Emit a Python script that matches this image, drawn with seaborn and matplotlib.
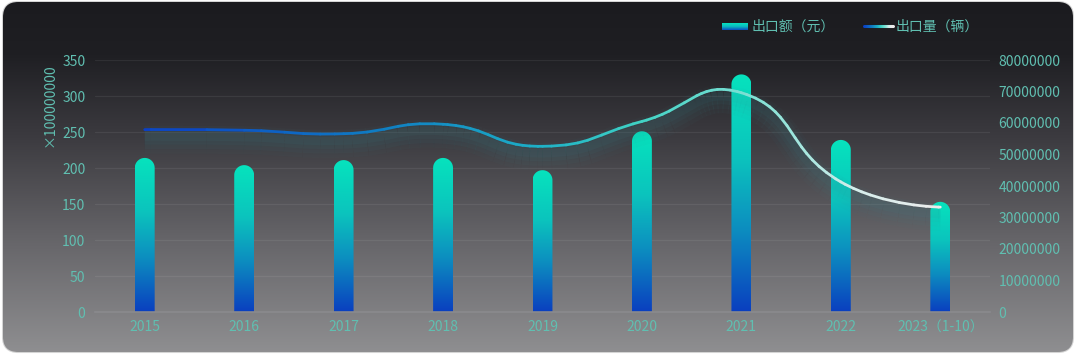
import numpy as np
import pandas as pd
import matplotlib
matplotlib.use("Agg")
import matplotlib.pyplot as plt
import seaborn as sns
from matplotlib.path import Path
from matplotlib.patches import FancyBboxPatch
from matplotlib.collections import LineCollection
from matplotlib.colors import LinearSegmentedColormap
from matplotlib.transforms import IdentityTransform

# ---------------- data ----------------
years = ["2015", "2016", "2017", "2018", "2019", "2020", "2021", "2022", "2023（1-10）"]
export_value = [214, 204, 211, 214, 197, 251, 330, 239, 153]          # ×100000000 元
export_volume = [57.9e6, 57.7e6, 56.6e6, 59.6e6, 52.6e6, 60.5e6, 69.6e6, 41.3e6, 33.3e6]  # 辆
left_ticks = [0, 50, 100, 150, 200, 250, 300, 350]
right_ticks = [0, 10000000, 20000000, 30000000, 40000000, 50000000, 60000000, 70000000, 80000000]
legend_labels = ["出口额（元）", "出口量（辆）"]
unit_label = "×100000000"

# ---------------- style ----------------
sns.set_style("dark")
plt.rcParams["font.family"] = ["Noto Sans CJK SC", "DejaVu Sans"]
TEAL = "#60bfb1"
FS = 10
W, H, DPI = 1080, 362, 100

fig = plt.figure(figsize=(W / DPI, H / DPI), dpi=DPI, facecolor="white")

# background card with vertical gradient
bg = fig.add_axes([0, 0, 1, 1], zorder=-10)
bg.set_xlim(0, 1); bg.set_ylim(0, 1); bg.axis("off")
bg_cmap = LinearSegmentedColormap.from_list(
    "bg", [(0.0, "#929294"), (0.35, "#646367"), (0.62, "#3c3b40"), (0.85, "#1f1f23"), (1.0, "#1b1b1f")])
grad = np.linspace(0, 1, 256).reshape(-1, 1)
card = FancyBboxPatch((3 / W, 10 / H), 1070 / W, 350 / H,
                      boxstyle="round,pad=0,rounding_size=0.014",
                      mutation_aspect=W / H, transform=bg.transAxes,
                      facecolor="none", edgecolor="#d4d4d4", lw=1.5, zorder=0)
bg.add_patch(card)
im_bg = bg.imshow(grad, cmap=bg_cmap, extent=[0, 1, 0, 1], aspect="auto", origin="lower", zorder=1)
im_bg.set_clip_path(card)

# main axes
ax = fig.add_axes([95 / W, 50 / H, 895 / W, 252 / H])
ax.set_facecolor("none")
df = pd.DataFrame({"year": years, "value": export_value})
sns.barplot(data=df, x="year", y="value", ax=ax, width=0.2, color="#08dfbd", saturation=1)
ax.set_xlim(-0.5, len(years) - 0.5)
ax.set_ylim(0, 350)
ax.set_yticks(left_ticks)
ax.set_xlabel(""); ax.set_ylabel("")
ax.set_autoscale_on(False)
for s in ["top", "left", "right"]:
    ax.spines[s].set_visible(False)
ax.spines["bottom"].set_color("#8a8a8e")
ax.spines["bottom"].set_linewidth(1.2)
ax.grid(axis="x", visible=False)
ax.grid(axis="y", color="white", alpha=0.07, lw=0.9)
ax.tick_params(axis="both", length=0, colors=TEAL, labelsize=FS)
ax.tick_params(axis="y", pad=7)
ax.tick_params(axis="x", pad=6)

bar_cmap = LinearSegmentedColormap.from_list(
    "bar", [(0.0, "#0a3fbf"), (0.35, "#0d8ec0"), (0.65, "#0bc4bd"), (1.0, "#06e3bd")])
fig.canvas.draw()
for p in list(ax.patches):
    x0, w, h = p.get_x(), p.get_width(), p.get_height()
    p.set_visible(False)
    (px0, py0) = ax.transData.transform((x0, 0))
    (px1, py1) = ax.transData.transform((x0 + w, h))
    r = min((px1 - px0) / 2, py1 - py0)
    cx = (px0 + px1) / 2
    th = np.linspace(np.pi, 0, 30)
    arc = np.column_stack([cx + (px1 - px0) / 2 * np.cos(th), py1 - r + r * np.sin(th)])
    verts = np.vstack([[px0, py0], arc, [px1, py0], [px0, py0]])
    codes = [Path.MOVETO] + [Path.LINETO] * (len(verts) - 2) + [Path.CLOSEPOLY]
    clip = Path(verts, codes)
    im = ax.imshow(grad, cmap=bar_cmap, extent=[x0, x0 + w, 0, h], aspect="auto",
                   origin="lower", zorder=2)
    im.set_clip_path(clip, IdentityTransform())

# secondary axis and smooth line
ax2 = ax.twinx()
ax2.set_ylim(0, 80000000)
ax2.set_yticks(right_ticks)
ax2.set_yticklabels([str(v) for v in right_ticks])
for s in ax2.spines.values():
    s.set_visible(False)
ax2.tick_params(axis="y", length=0, colors=TEAL, labelsize=FS, pad=6)
ax2.grid(False)
fig.canvas.draw()

pts = ax2.transData.transform(np.column_stack([np.arange(len(years)), export_volume]))
smooth = 0.5
n = len(pts)
cp_next, cp_prev = [None] * n, [None] * n
for i in range(n):
    if 0 < i < n - 1:
        v = pts[i + 1] - pts[i - 1]
        d0 = np.linalg.norm(pts[i] - pts[i - 1]); d1 = np.linalg.norm(pts[i + 1] - pts[i])
        ratio = d1 / (d0 + d1)
        cp_next[i] = pts[i] + v * smooth * ratio
        cp_prev[i] = pts[i] - v * smooth * (1 - ratio)
    else:
        cp_next[i] = pts[i]; cp_prev[i] = pts[i]
verts = [pts[0]]
codes = [Path.MOVETO]
for i in range(1, n):
    verts += [cp_next[i - 1], cp_prev[i], pts[i]]
    codes += [Path.CURVE4] * 3
curve = Path(np.array(verts), codes)
poly = np.array(curve.to_polygons(closed_only=False)[0])
segs = np.stack([poly[:-1], poly[1:]], axis=1)
xmin, xmax = poly[:, 0].min(), poly[:, 0].max()
tpos = ((segs[:, 0, 0] + segs[:, 1, 0]) / 2 - xmin) / (xmax - xmin)
line_cmap = LinearSegmentedColormap.from_list(
    "line", [(0.0, "#0b3fc6"), (0.3, "#0f7ec2"), (0.5, "#1eb0c6"), (0.62, "#3fd2c4"),
             (0.78, "#86e2d6"), (0.9, "#d6eeec"), (1.0, "#ececec")])

# glow (shadow below the line)
for lw, a, off in [(20, 0.035, -10), (15, 0.05, -9), (10, 0.06, -8), (6, 0.07, -7)]:
    glow = LineCollection(segs + np.array([0, off]), colors="#3a8f98", linewidths=lw,
                          alpha=a, transform=IdentityTransform(), capstyle="butt", zorder=3)
    ax2.add_collection(glow)
lc = LineCollection(segs, colors=line_cmap(tpos), linewidths=2.0, transform=IdentityTransform(),
                    capstyle="round", zorder=4)
ax2.add_collection(lc)

# unit label
fig.text(50 / W, 1 - 105 / H, unit_label, rotation=90, color=TEAL, fontsize=FS,
         ha="center", va="center")

# legend
icon = fig.add_axes([722 / W, 1 - 30 / H, 26 / W, 7 / H])
icon.axis("off")
icon.imshow(grad, cmap=LinearSegmentedColormap.from_list("lg", ["#0a4cc0", "#0bb8c0", "#06e3bd"]),
            aspect="auto", origin="lower", extent=[0, 1, 0, 1])
fig.text(752 / W, 1 - 26.5 / H, legend_labels[0], color=TEAL, fontsize=FS, ha="left", va="center")
lx = np.linspace(864, 893, 30)
lsegs = np.stack([np.column_stack([lx[:-1], np.full(29, H - 26.3)]),
                  np.column_stack([lx[1:], np.full(29, H - 26.3)])], axis=1)
leg_lc = LineCollection(lsegs, colors=line_cmap(np.linspace(0, 1, 29)), linewidths=2.2,
                        transform=IdentityTransform(), capstyle="round")
bg.add_collection(leg_lc)
fig.text(896 / W, 1 - 26.5 / H, legend_labels[1], color=TEAL, fontsize=FS, ha="left", va="center")

fig.savefig("out.png", dpi=DPI, facecolor="white")
